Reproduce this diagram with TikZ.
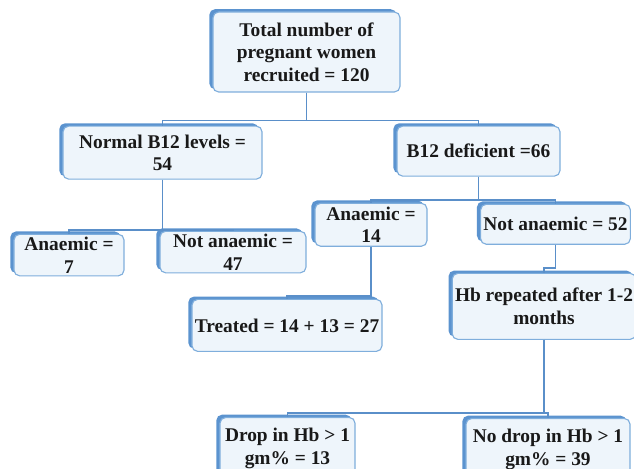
\documentclass[tikz,border=0pt]{standalone}
\usepackage{fontspec}
\setmainfont{Liberation Serif}
\usetikzlibrary{positioning,shadows}
\definecolor{boxfill}{HTML}{EEF5FB}
\definecolor{boxline}{HTML}{7FAEDC}
\definecolor{boxedge}{HTML}{5B93CF}
\definecolor{linkblue}{HTML}{5A8FC9}
\tikzset{
  blk/.style={draw=boxline, fill=boxfill, rounded corners=4pt, rectangle, align=center, inner sep=2pt, line width=0.8pt, font=\fontsize{13.8}{16}\selectfont\bfseries, text=black!90, general shadow={fill=boxedge, shadow xshift=-2.6pt, shadow yshift=2pt}},
  conn/.style={draw=linkblue, line width=1.3pt},
}
\begin{document}
\begin{tikzpicture}[node distance=0.8cm]
\useasboundingbox (-7.6625,-10.425) rectangle (8.1875,1.3);
\clip (-7.6625,-10.425) rectangle (8.1875,1.3);

\node[blk, minimum width=4.675cm, minimum height=2cm] (tot)
  {Total number of\\pregnant women\\recruited = 120};

\node[blk, below=0.825cm of tot, xshift=-3.6cm, minimum width=4.975cm, minimum height=1.325cm] (norm)
  {Normal B12 levels =\\54};
\node[blk, below=0.825cm of tot, xshift=4.3cm, minimum width=4.075cm, minimum height=1.25cm] (def)
  {B12 deficient =66};

\node[blk, below=1.35cm of norm, xshift=-2.3375cm, minimum width=2.75cm, minimum height=1.025cm] (an7)
  {Anaemic =\\7};
\node[blk, below=1.275cm of norm, xshift=1.7625cm, minimum width=3.65cm, minimum height=0.875cm] (nan47)
  {Not anaemic =\\47};

\node[blk, below=0.65cm of def, xshift=-2.6875cm, minimum width=2.8cm, minimum height=1.075cm] (an14)
  {Anaemic =\\14};
\node[blk, below=0.675cm of def, xshift=1.925cm, minimum width=3.625cm, minimum height=1cm] (nan52)
  {Not anaemic = 52};

\node[blk, below=1.3cm of an14, xshift=-2.1cm, minimum width=4.7cm, minimum height=1.3cm] (treat)
  {Treated = 14 + 13 = 27};
\node[blk, below=0.7cm of nan52, xshift=-0.2875cm, minimum width=4.5cm, minimum height=1.65cm] (hb)
  {Hb repeated after 1-2\\months};

\node[blk, below=1.925cm of hb, xshift=-6.4125cm, minimum width=3.375cm, minimum height=1.55cm] (drop)
  {Drop in Hb > 1\\gm\% = 13};
\node[blk, below=1.95cm of hb, xshift=0.1cm, minimum width=4.1cm, minimum height=1.55cm] (nodrop)
  {No drop in Hb > 1\\gm\% = 39};

\draw[conn] (tot.south) -- ++(0,-0.7) -| (norm.north);
\draw[conn] (tot.south) -- ++(0,-0.7) -| (def.north);
\draw[conn] (norm.south) -- ++(0,-1.25) -| (an7.north);
\draw[conn] (norm.south) -- ++(0,-1.25) -| (nan47.north);
\draw[conn] (def.south) -- ++(0,-0.575) -| (an14.north);
\draw[conn] (def.south) -- ++(0,-0.575) -| (nan52.north);
\draw[conn] (an14.south) -- ++(0,-1.225) -| (treat.north);
\draw[conn] (nan52.south) -- ++(0,-0.575) -| (hb.north);
\draw[conn] (hb.south) -- ++(0,-1.825) -| (drop.north);
\draw[conn] (hb.south) -- ++(0,-1.825) -| (nodrop.north);

\end{tikzpicture}
\end{document}
